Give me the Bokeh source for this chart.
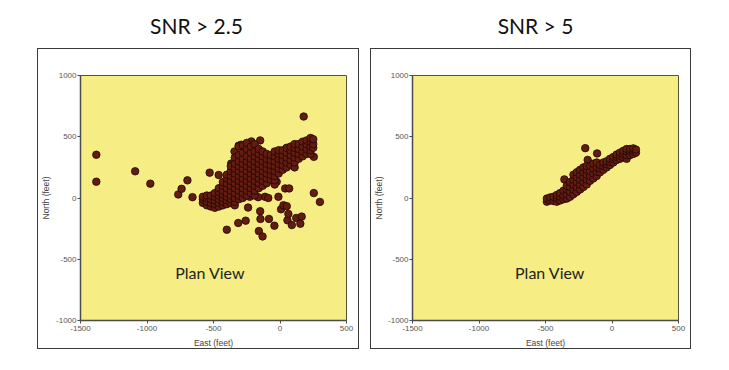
from bokeh.plotting import figure
from bokeh.models import Range1d, FixedTicker, Label, Spacer
from bokeh.layouts import row, column
from bokeh.embed import file_html
from bokeh.resources import INLINE

# ---------------- data ----------------
titles = ["SNR > 2.5", "SNR > 5"]
x_ticks = [-1500, -1000, -500, 0, 500]
y_ticks = [-1000, -500, 0, 500, 1000]

snr25_points = [
    # outliers
    (-1381, 353), (-1381, 133), (-1089, 218), (-975, 117), (-765, 29), (-740, 75),
    (-696, 144), (-658, 7), (-529, 207), (-461, 188), (-367, 281), (178, 665),
    (254, 336), (254, 40), (300, -32), (-400, -259), (-314, -204), (-258, -185),
    (-240, -78), (-149, -108), (-147, -171), (-159, -270), (-131, -314), (-83, -171),
    (-42, -226), (8, -92), (26, -59), (51, -67), (56, -182), (63, -130), (89, -221),
    (122, -163), (163, -152), (153, -210), (39, 78), (69, 78), (-25, 133), (-12, 10),
    (-113, 10), (-88, 0), (-164, 7), (-227, 10), (-174, 169), (-17, 215), (0, 380),
    (-149, 470), (-215, 462), (-291, 435), (-311, 427), (-342, 380),
    # dense band
    (-580, -40), (-580, -10), (-580, 10),
    (-550, -60), (-550, -30), (-550, 0), (-550, 20),
    (-520, -70), (-520, -40), (-520, -10), (-520, 20),
    (-490, -80), (-490, -50), (-490, -20), (-490, 10), (-490, 40),
    (-460, -70), (-460, -40), (-460, -10), (-460, 20), (-460, 50), (-460, 80),
    (-430, -60), (-430, -30), (-430, 0), (-430, 30), (-430, 60), (-430, 100), (-430, 130),
    (-400, -50), (-400, -20), (-400, 10), (-400, 40), (-400, 80), (-400, 120), (-400, 160), (-400, 190),
    (-370, -40), (-370, -10), (-370, 20), (-370, 60), (-370, 100), (-370, 140), (-370, 180), (-370, 220), (-370, 260),
    (-340, -60), (-340, -30), (-340, 0), (-340, 40), (-340, 80), (-340, 120), (-340, 160), (-340, 200), (-340, 240), (-340, 280), (-340, 330),
    (-310, -10), (-310, 20), (-310, 60), (-310, 100), (-310, 140), (-310, 180), (-310, 220), (-310, 260), (-310, 300), (-310, 350), (-310, 420),
    (-280, 0), (-280, 40), (-280, 80), (-280, 120), (-280, 160), (-280, 200), (-280, 240), (-280, 280), (-280, 320), (-280, 370), (-280, 430),
    (-250, 20), (-250, 60), (-250, 100), (-250, 140), (-250, 180), (-250, 220), (-250, 260), (-250, 300), (-250, 340), (-250, 400), (-250, 450),
    (-220, 40), (-220, 80), (-220, 120), (-220, 160), (-220, 200), (-220, 240), (-220, 280), (-220, 320), (-220, 370), (-220, 420),
    (-190, 20), (-190, 60), (-190, 100), (-190, 140), (-190, 180), (-190, 220), (-190, 260), (-190, 300), (-190, 340), (-190, 380), (-190, 440),
    (-160, 80), (-160, 120), (-160, 160), (-160, 200), (-160, 240), (-160, 280), (-160, 320), (-160, 360), (-160, 400),
    (-130, 100), (-130, 140), (-130, 180), (-130, 220), (-130, 260), (-130, 300), (-130, 340), (-130, 380),
    (-100, 120), (-100, 160), (-100, 200), (-100, 240), (-100, 280), (-100, 320), (-100, 360),
    (-70, 150), (-70, 190), (-70, 230), (-70, 270), (-70, 310), (-70, 350),
    (-40, 110), (-40, 145), (-40, 180), (-40, 220), (-40, 260), (-40, 300), (-40, 340), (-40, 380),
    (-10, 200), (-10, 240), (-10, 280), (-10, 320), (-10, 360), (-10, 390),
    (20, 230), (20, 270), (20, 310), (20, 350), (20, 390),
    (50, 250), (50, 290), (50, 330), (50, 370), (50, 410),
    (80, 270), (80, 310), (80, 350), (80, 390), (80, 420),
    (110, 250), (110, 290), (110, 330), (110, 370), (110, 410), (110, 440),
    (140, 320), (140, 360), (140, 400), (140, 440),
    (170, 340), (170, 380), (170, 420), (170, 460),
    (200, 360), (200, 400), (200, 440), (200, 470),
    (230, 360), (230, 390), (230, 420), (230, 460), (230, 490),
    (250, 410), (250, 440), (250, 480),
]

snr5_points = [
    # outliers
    (-201, 407), (-183, 311), (-112, 364), (-358, 152),
    # band
    (-490, -30), (-490, -5),
    (-465, -20), (-465, 5),
    (-440, -25), (-440, 10),
    (-415, -30), (-415, 0), (-415, 25),
    (-390, -20), (-390, 10), (-390, 40),
    (-365, -10), (-365, 20), (-365, 60),
    (-340, -5), (-340, 30), (-340, 70), (-340, 100),
    (-315, 10), (-315, 50), (-315, 90), (-315, 130),
    (-290, 30), (-290, 70), (-290, 110), (-290, 150), (-290, 190),
    (-265, 50), (-265, 90), (-265, 130), (-265, 170), (-265, 210),
    (-240, 70), (-240, 110), (-240, 150), (-240, 190), (-240, 230),
    (-215, 90), (-215, 130), (-215, 170), (-215, 210), (-215, 250),
    (-190, 110), (-190, 150), (-190, 190), (-190, 230), (-190, 260),
    (-165, 140), (-165, 180), (-165, 220), (-165, 260),
    (-140, 160), (-140, 200), (-140, 240), (-140, 280),
    (-115, 180), (-115, 215), (-115, 250), (-115, 290),
    (-90, 210), (-90, 240), (-90, 270),
    (-65, 230), (-65, 260), (-65, 290),
    (-40, 250), (-40, 275), (-40, 300),
    (-15, 270), (-15, 295), (-15, 320),
    (10, 290), (10, 315), (10, 335),
    (35, 310), (35, 335), (35, 355),
    (60, 320), (60, 345), (60, 370),
    (85, 330), (85, 360), (85, 385),
    (110, 320), (110, 350), (110, 380), (110, 400),
    (135, 350), (135, 380), (135, 400),
    (160, 360), (160, 385), (160, 405),
    (180, 370), (180, 395),
]

plan_view_pos = [(-525, -605), (-466, -605)]

# ---------------- styling ----------------
YELLOW = "#f6ed84"
POINT_FILL = "#661b10"
FONT_AX = "Liberation Sans"
FONT_TXT = "Lato"
PANEL_H = 301


def make_panel(points, width, left_border, label_pos, label_standoff):
    p = figure(width=width, height=PANEL_H, output_backend="svg", toolbar_location=None,
               x_range=Range1d(-1500, 500), y_range=Range1d(-1000, 1000),
               min_border_left=left_border, min_border_right=14,
               min_border_top=26, min_border_bottom=29)
    p.background_fill_color = YELLOW
    p.border_fill_color = "white"
    p.outline_line_color = "#55553a"
    p.outline_line_width = 1
    p.xgrid.visible = False
    p.ygrid.visible = False
    p.xaxis.ticker = FixedTicker(ticks=x_ticks)
    p.yaxis.ticker = FixedTicker(ticks=y_ticks)
    p.xaxis.major_label_overrides = {v: str(v) for v in x_ticks}
    p.yaxis.major_label_overrides = {v: str(v) for v in y_ticks}
    p.xaxis.axis_label = "East (feet)"
    p.yaxis.axis_label = "North (feet)"
    for ax in (p.xaxis, p.yaxis):
        ax.axis_line_color = "#4a4a4a"
        ax.axis_line_width = 1.5
        ax.major_tick_line_color = "#4a4a4a"
        ax.major_tick_out = 3
        ax.major_tick_in = 0
        ax.minor_tick_line_color = None
        ax.major_label_text_font = FONT_AX
        ax.major_label_text_font_size = "8px"
        ax.major_label_text_color = "#555555"
        ax.major_label_standoff = 2
        ax.axis_label_text_font = FONT_AX
        ax.axis_label_text_font_size = "8.5px"
        ax.axis_label_text_font_style = "normal"
        ax.axis_label_text_color = "#444444"
    p.xaxis.axis_label_standoff = 4
    p.yaxis.major_label_standoff = 1
    p.yaxis.axis_label_standoff = label_standoff

    xs = [pt[0] for pt in points]
    ys = [pt[1] for pt in points]
    p.scatter(xs, ys, size=7.5, fill_color=POINT_FILL, line_color="#1a0805", line_width=0.8)

    p.add_layout(Label(x=label_pos[0], y=label_pos[1], text="Plan View",
                       text_font=FONT_TXT, text_font_size="16px", text_color="#222222",
                       text_align="center", text_baseline="middle"))
    p.styles = {"border": "1.5px solid #3a3a3a"}
    return p


p1 = make_panel(snr25_points, 322, 42, plan_view_pos[0], 2)
p2 = make_panel(snr5_points, 321, 41, plan_view_pos[1], 1)

# title strip (includes the 8px top page margin)
t = figure(width=721, height=48, output_backend="svg", toolbar_location=None,
           x_range=Range1d(0, 721), y_range=Range1d(0, 48),
           min_border=0, outline_line_color=None)
t.axis.visible = False
t.grid.visible = False
t.background_fill_color = "white"
t.border_fill_color = "white"
for txt, cx in zip(titles, [196, 535]):
    t.add_layout(Label(x=cx, y=23, text=txt, text_font=FONT_TXT, text_font_size="21px",
                       text_color="#111111", text_align="center", text_baseline="middle"))

layout = column(t, row(Spacer(width=37, height=PANEL_H), p1, Spacer(width=11, height=PANEL_H), p2))

open("out.html", "w").write(file_html(layout, INLINE))
